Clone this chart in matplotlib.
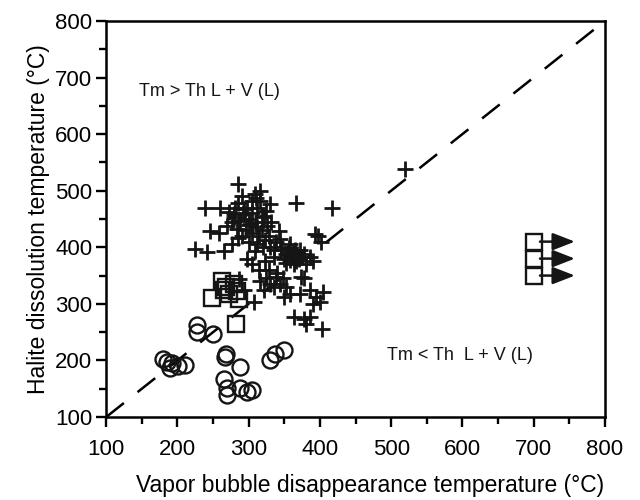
import matplotlib
matplotlib.use("Agg")
import matplotlib.pyplot as plt
from matplotlib.patches import ArrowStyle

plt.rcParams['font.family'] = ['Liberation Sans', 'DejaVu Sans']

# crosses
plus_x = [285, 239, 260, 281, 309, 316, 304, 330, 325, 367, 417,
          246, 258, 269, 279, 288, 295, 302, 311, 321, 332, 283, 285,
          225, 241, 265, 276, 297, 309, 323, 342, 344, 358, 335, 353,
          367, 377, 386, 363, 381, 393, 323, 398, 402, 391, 374, 378,
          328, 339, 344, 353, 358, 349, 372, 386, 395, 405, 400, 391,
          363, 377, 386, 381, 403, 321, 316, 519, 307, 287, 293,
          290, 298, 305, 312, 318, 300, 292, 285, 310, 296, 305, 318, 326, 314, 300, 290,
          350, 355, 360, 365, 370, 358, 362, 368, 372, 356, 345, 375, 366, 352,
          330, 338, 346, 320, 312, 328, 335,
          305, 315, 325, 330, 335, 340, 348, 310, 316,
          280, 287, 294, 300, 276, 272]
plus_y = [511, 470, 470, 470, 494, 482, 482, 476, 464, 479, 470,
          429, 426, 438, 453, 447, 459, 441, 435, 453, 444, 432, 417,
          397, 391, 394, 406, 379, 394, 412, 429, 415, 406, 382, 388,
          382, 388, 382, 371, 371, 423, 376, 420, 409, 376, 347, 346,
          359, 347, 335, 329, 318, 312, 318, 324, 312, 321, 303, 300,
          277, 274, 277, 265, 256, 324, 341, 538, 303, 344, 324,
          490, 470, 460, 470, 455, 450, 460, 478, 445, 430, 425, 430, 438, 420, 410, 420,
          380, 390, 385, 395, 380, 378, 392, 388, 395, 398, 395, 383, 375, 372,
          400, 410, 400, 400, 405, 420, 395,
          370, 360, 345, 335, 330, 355, 345, 488, 500,
          458, 448, 468, 440, 444, 462]

# squares
sq_x = [248, 263, 268, 272, 279, 283, 287, 282, 265]
sq_y = [310, 340, 330, 318, 335, 322, 308, 265, 325]

# squares with arrows (Th not reached)
sq_arrow_x = [700, 700, 700]
sq_arrow_y = [410, 380, 350]

# circles
circ_x = [180, 192, 211, 190, 201, 227, 228, 250, 267, 288, 265, 269, 288, 304, 269, 298, 330, 337, 349, 185, 268]
circ_y = [203, 195, 192, 186, 190, 262, 250, 247, 206, 189, 168, 151, 151, 148, 139, 144, 200, 212, 218, 198, 212]

fig = plt.figure(figsize=(6.4, 5.0), dpi=100)
ax = fig.add_axes([0.166, 0.166, 0.779, 0.792])

ax.plot([100, 800], [100, 800], color='black', lw=1.8, dashes=(9, 7), zorder=1)

ax.plot(plus_x, plus_y, linestyle='none', marker='+', ms=12, mew=2.0, color='#151515', zorder=3)
ax.plot(sq_x, sq_y, linestyle='none', marker='s', ms=11, mew=1.7, mfc='none', mec='#151515', zorder=2)
ax.plot(circ_x, circ_y, linestyle='none', marker='o', ms=11.5, mew=1.7, mfc='none', mec='#151515', zorder=2)
ax.plot(sq_arrow_x, sq_arrow_y, linestyle='none', marker='s', ms=12, mew=1.7, mfc='none', mec='#151515', zorder=2)
for yy in sq_arrow_y:
    ax.annotate('', xy=(758, yy), xytext=(709, yy),
                arrowprops=dict(arrowstyle=ArrowStyle('-|>', head_length=0.9, head_width=0.35),
                                mutation_scale=15, lw=1.8, color='#151515', shrinkA=0, shrinkB=0))

ax.text(146, 676, 'Tm > Th L + V (L)', fontsize=13, va='center', ha='left', color='#151515')
ax.text(494, 209, 'Tm < Th  L + V (L)', fontsize=13, va='center', ha='left', color='#151515')

ax.set_xlim(100, 800)
ax.set_ylim(100, 800)
ax.set_xticks(range(100, 801, 100))
ax.set_yticks(range(100, 801, 100))
ax.set_xticks(range(150, 800, 100), minor=True)
ax.set_yticks(range(150, 800, 100), minor=True)
ax.tick_params(which='major', length=7, width=1.7, labelsize=16, direction='out')
ax.tick_params(which='minor', length=5, width=1.7, direction='out')
ax.tick_params(axis='x', pad=9)
ax.tick_params(axis='y', pad=3)
for sp in ax.spines.values():
    sp.set_linewidth(1.8)

ax.set_xlabel('Vapor bubble disappearance temperature (°C)', fontsize=16.5, labelpad=8)
ax.xaxis.set_label_coords(0.53, -0.145)
ax.set_ylabel('Halite dissolution temperature (°C)', fontsize=16.5, labelpad=4)

fig.savefig('out.png', dpi=100)
